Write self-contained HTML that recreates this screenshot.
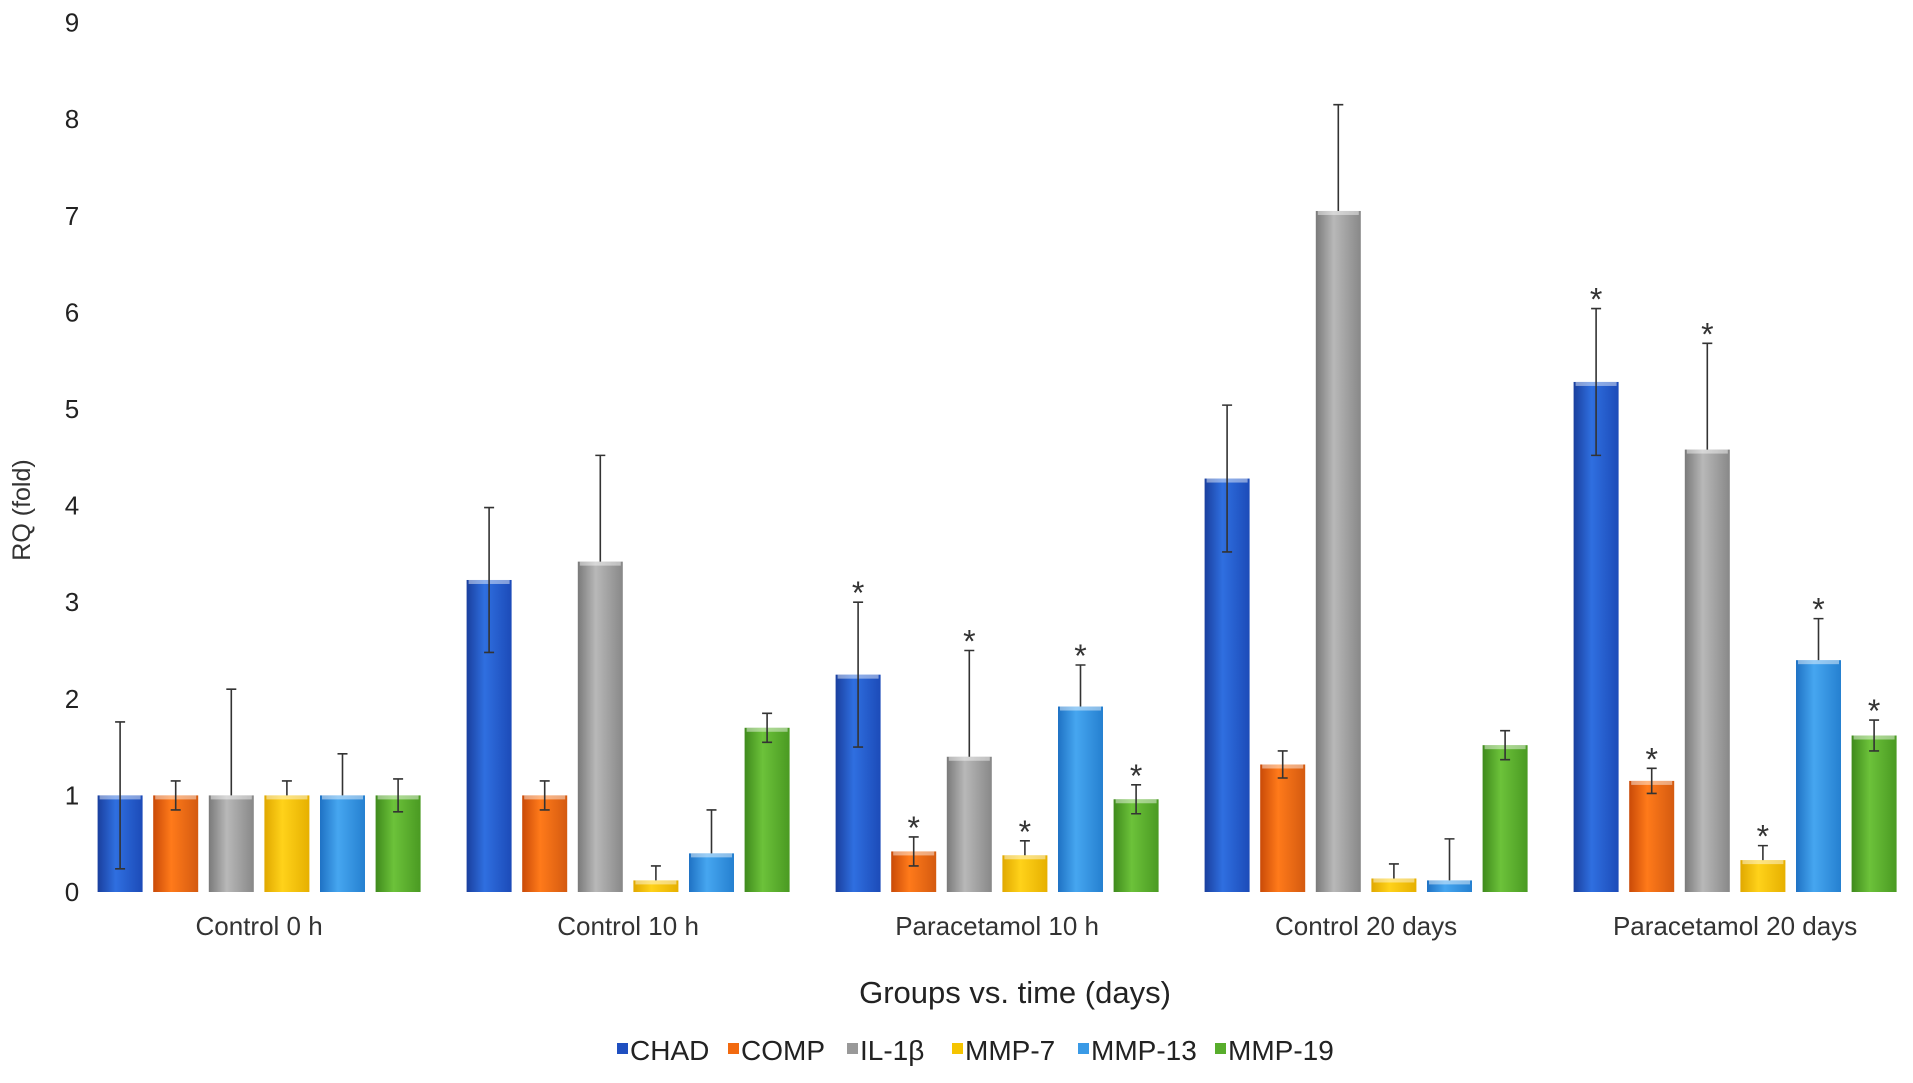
<!DOCTYPE html>
<html><head><meta charset="utf-8"><style>
body{margin:0;background:#fff;width:1913px;height:1078px;overflow:hidden;font-family:"Liberation Sans",sans-serif}
</style></head><body>
<svg id="chart" width="1913" height="1078" xmlns="http://www.w3.org/2000/svg">
<defs>
<linearGradient id="g0" x1="0" x2="1"><stop offset="0" stop-color="#1a3f9e"/><stop offset=".4" stop-color="#2f6fe0"/><stop offset="1" stop-color="#1c4bb8"/></linearGradient>
<linearGradient id="g1" x1="0" x2="1"><stop offset="0" stop-color="#c94a08"/><stop offset=".4" stop-color="#ff7a1a"/><stop offset="1" stop-color="#d45a10"/></linearGradient>
<linearGradient id="g2" x1="0" x2="1"><stop offset="0" stop-color="#7a7a7a"/><stop offset=".4" stop-color="#b8b8b8"/><stop offset="1" stop-color="#888"/></linearGradient>
<linearGradient id="g3" x1="0" x2="1"><stop offset="0" stop-color="#e0a800"/><stop offset=".4" stop-color="#ffd21a"/><stop offset="1" stop-color="#e6b000"/></linearGradient>
<linearGradient id="g4" x1="0" x2="1"><stop offset="0" stop-color="#1f72c4"/><stop offset=".4" stop-color="#46a6f0"/><stop offset="1" stop-color="#2580d0"/></linearGradient>
<linearGradient id="g5" x1="0" x2="1"><stop offset="0" stop-color="#3f8a1c"/><stop offset=".4" stop-color="#6cc23a"/><stop offset="1" stop-color="#4a9a22"/></linearGradient>
</defs>
<text x="30" y="510" transform="rotate(-90 30 510)" text-anchor="middle" font-size="25" fill="#333">RQ (fold)</text>
<text x="1015" y="1003" text-anchor="middle" font-size="31" fill="#222">Groups vs. time (days)</text>
<g id="bars"></g>
</svg>
<script>
const categories=["Control 0 h","Control 10 h","Paracetamol 10 h","Control 20 days","Paracetamol 20 days"];
const series=["CHAD","COMP","IL-1β","MMP-7","MMP-13","MMP-19"];
const CHAD=[1,3.23,2.25,4.28,5.28];
const COMP=[1,1.0,0.42,1.32,1.15];
const IL1B=[1,3.42,1.4,7.05,4.58];
const MMP7=[1,0.12,0.38,0.14,0.33];
const MMP13=[1,0.4,1.92,0.12,2.4];
const MMP19=[1,1.7,0.96,1.52,1.62];
const errCHAD=[0.76,0.75,0.75,0.76,0.76];
const errCOMP=[0.15,0.15,0.15,0.14,0.13];
const errIL1B=[1.1,1.1,1.1,1.1,1.1];
const errMMP7=[0.15,0.15,0.15,0.15,0.15];
const errMMP13=[0.43,0.45,0.43,0.43,0.43];
const errMMP19=[0.17,0.15,0.15,0.15,0.16];
const lowerShown=[true,true,false,false,false,true];
const stars=[[0,0,1,0,1],[0,0,1,0,1],[0,0,1,0,1],[0,0,1,0,1],[0,0,1,0,1],[0,0,1,0,1]];
const yTicks=[0,1,2,3,4,5,6,7,8,9];
const values=[CHAD,COMP,IL1B,MMP7,MMP13,MMP19];
const errs=[errCHAD,errCOMP,errIL1B,errMMP7,errMMP13,errMMP19];
const legendColors=["#1f4fc0","#f26a10","#999","#f5c400","#3a9ae6","#58ad2c"];
const NS="http://www.w3.org/2000/svg";
const svg=document.getElementById('chart'), g=document.getElementById('bars');
const y0=892, unit=96.6, gx0=97.6, gStep=369, bStep=55.6, bw=45;
const y=v=>y0-v*unit;
const x=(c,s)=>gx0+c*gStep+s*bStep;
function mk(tag,at,txt){const e=document.createElementNS(NS,tag);for(const k in at)e.setAttribute(k,at[k]);if(txt!=null)e.textContent=txt;g.appendChild(e);return e;}
yTicks.forEach(t=>{const e=mk('text',{x:72,y:y(t)+9,'text-anchor':'middle','font-size':26,fill:'#222'},t);

});
categories.forEach((c,i)=>{const e=mk('text',{x:x(i,0)+(5*bStep+bw)/2,y:935,'text-anchor':'middle','font-size':26,fill:'#333'},c);

});
values.forEach((arr,s)=>arr.forEach((v,c)=>{
 const bx=x(c,s);
 const r=mk('rect',{x:bx,y:y(v),width:bw,height:y0-y(v),fill:'url(#g'+s+')'});
 
 
 mk('rect',{x:bx+2,y:y(v),width:bw-4,height:4,fill:'#fff',opacity:.45});
 const cx=bx+bw/2,e=errs[s][c],top=y(v+e),bot=lowerShown[s]?y(Math.max(v-e,0)):y(v);
 const l=mk('path',{d:`M${cx},${top}V${bot}M${cx-5},${top}H${cx+5}`+(lowerShown[s]?`M${cx-5},${bot}H${cx+5}`:''),stroke:'#333','stroke-width':1.6,fill:'none'});
 
 
 if(stars[s][c]){const t=mk('text',{x:cx,y:top+2,'text-anchor':'middle','font-size':32,fill:'#333'},'*');
 
 }
}));
const lx=[617,728,847,952,1078,1215];
series.forEach((s,i)=>{
 const r=mk('rect',{x:lx[i],y:1043,width:11,height:11,fill:legendColors[i]});
 
 
 const t=mk('text',{x:lx[i]+13,y:1060,'font-size':28,fill:'#222'},s);
 
 
});
</script>
</body></html>
